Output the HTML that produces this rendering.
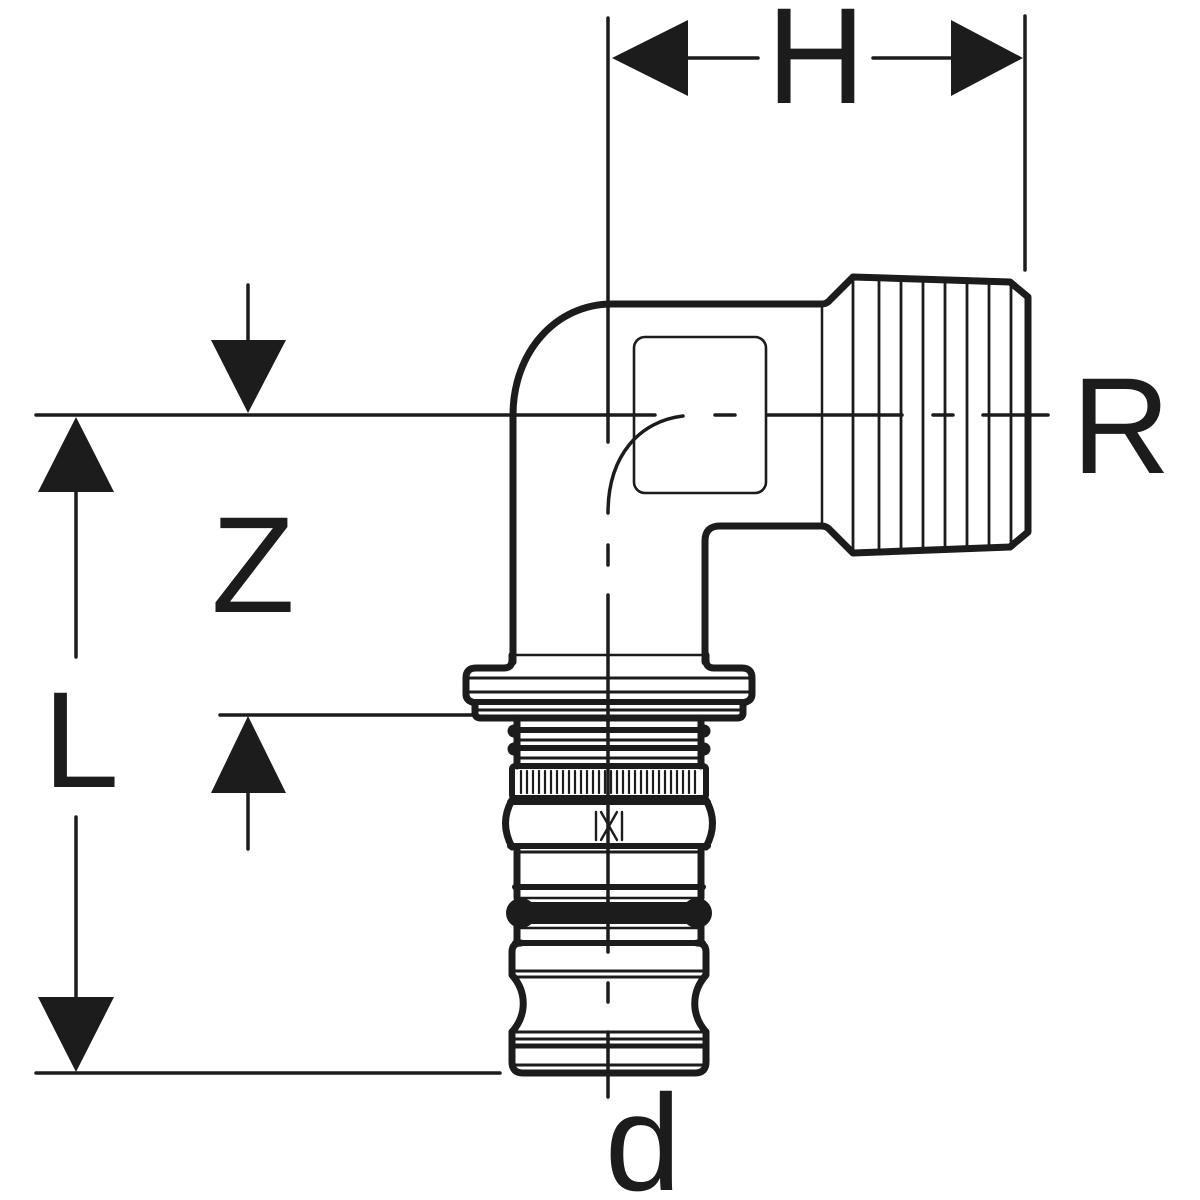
<!DOCTYPE html>
<html><head><meta charset="utf-8"><style>
html,body{margin:0;padding:0;background:#fff;}
svg{display:block;}
text{font-family:"Liberation Sans",Arial,sans-serif;fill:#1c1c1c;}
</style></head><body>
<svg width="1200" height="1200" viewBox="0 0 1200 1200" xmlns="http://www.w3.org/2000/svg">
<rect width="1200" height="1200" fill="#fff"/>
<g stroke="#1c1c1c" fill="none" stroke-linecap="round" stroke-linejoin="round">

<!-- dimension / extension lines -->
<g stroke-width="3.5">
  <line x1="608" y1="18" x2="608" y2="442"/>
  <line x1="608" y1="545" x2="608" y2="565"/>
  <line x1="608" y1="595" x2="608" y2="952"/>
  <line x1="608" y1="983" x2="608" y2="1002"/>
  <line x1="608" y1="1032" x2="608" y2="1097"/>
  <line x1="1025" y1="16" x2="1025" y2="270"/>
  <line x1="687" y1="58" x2="758" y2="58"/>
  <line x1="873" y1="58" x2="952" y2="58"/>
  <!-- R axis -->
  <line x1="36" y1="415" x2="655" y2="415"/>
  <line x1="715" y1="415" x2="735" y2="415"/>
  <line x1="767" y1="415" x2="902" y2="415"/>
  <line x1="933" y1="415" x2="953" y2="415"/>
  <line x1="983" y1="415" x2="1048" y2="415"/>
  <!-- left dims -->
  <line x1="248" y1="285" x2="248" y2="340"/>
  <line x1="76" y1="492" x2="76" y2="657"/>
  <line x1="76" y1="817" x2="76" y2="997"/>
  <line x1="220" y1="715" x2="473" y2="715"/>
  <line x1="248" y1="793" x2="248" y2="849"/>
  <line x1="36" y1="1073" x2="500" y2="1073"/>
  <!-- inner bend axis -->
  <path d="M683,416 C640,421 608,455 608,513"/>
</g>

<!-- arrowheads -->
<g fill="#1c1c1c" stroke="none">
  <polygon points="612,58 688,20 688,96"/>
  <polygon points="1023,58 951,20 951,96"/>
  <polygon points="211,340 286,340 248,413"/>
  <polygon points="76,417 38,492 114,492"/>
  <polygon points="38,997 114,997 76,1072"/>
  <polygon points="248,716 211,793 286,793"/>
</g>

<!-- elbow body -->
<path stroke-width="7" d="M513,662 L513,415 C513,352 556,304 612,304 L822,304 Q827,304 831,299 L853,277 L1010,282 L1028,297 L1028,532 L1010,547 L853,553 L831,531 Q827,526 822,526 L720,526 Q705,526 705,541 L705,662"/>
<line stroke-width="2.5" x1="822" y1="305" x2="822" y2="525"/>
<g stroke-width="2.8">
  <line x1="853" y1="278" x2="853" y2="552"/>
  <line x1="879" y1="278" x2="879" y2="552"/>
  <line x1="901" y1="279" x2="901" y2="551"/>
  <line x1="923" y1="279" x2="923" y2="550"/>
  <line x1="945" y1="280" x2="945" y2="550"/>
  <line x1="967" y1="280" x2="967" y2="549"/>
  <line x1="989" y1="281" x2="989" y2="549"/>
  <line x1="1011" y1="283" x2="1011" y2="546"/>
</g>
<rect x="634" y="337" width="132" height="156" rx="11" stroke-width="2.6"/>

<!-- thin line in pipe -->
<line stroke-width="2.5" x1="517" y1="655" x2="701" y2="655"/>

<!-- left half of lower fitting + mirror -->
<g stroke-width="7">
  <path d="M512,655 L512,660 Q512,668 504,668 L476,668 Q466,668 466,678 L466,694 Q466,700 472,702 L475,704 L475,713 Q475,718 481,718 L609,718"/>
  <line x1="517" y1="718" x2="517" y2="766"/>
  <path d="M512,800 Q499,823 512,847"/>
  <line x1="517" y1="850" x2="517" y2="898"/>
  <line x1="517" y1="926" x2="517" y2="941"/>
  <path d="M521,943 Q512,943 512,952 L512,973"/>
  <path d="M512,975 C527,992 527,1015 512,1032"/>
  <path d="M512,1032 L512,1062 Q512,1073 523,1073 L609,1073"/>
</g>
<g transform="matrix(-1 0 0 1 1218 0)" stroke-width="7">
  <path d="M512,655 L512,660 Q512,668 504,668 L476,668 Q466,668 466,678 L466,694 Q466,700 472,702 L475,704 L475,713 Q475,718 481,718 L609,718"/>
  <line x1="517" y1="718" x2="517" y2="766"/>
  <path d="M512,800 Q499,823 512,847"/>
  <line x1="517" y1="850" x2="517" y2="898"/>
  <line x1="517" y1="926" x2="517" y2="941"/>
  <path d="M521,943 Q512,943 512,952 L512,973"/>
  <path d="M512,975 C527,992 527,1015 512,1032"/>
  <path d="M512,1032 L512,1062 Q512,1073 523,1073 L609,1073"/>
</g>

<!-- flange lines -->
<line stroke-width="3" x1="469" y1="678" x2="749" y2="678"/>
<line stroke-width="3" x1="469" y1="692" x2="749" y2="692"/>
<line stroke-width="6" x1="472" y1="702" x2="746" y2="702"/>
<line stroke-width="3" x1="477" y1="710" x2="741" y2="710"/>

<!-- grooves -->
<line stroke-width="6" x1="518" y1="730" x2="700" y2="730"/>
<line stroke-width="3" x1="518" y1="740" x2="700" y2="740"/>
<line stroke-width="6" x1="518" y1="748" x2="700" y2="748"/>
<line stroke-width="3" x1="518" y1="758" x2="700" y2="758"/>
<g fill="#1c1c1c" stroke="none">
  <circle cx="514" cy="731" r="6.5"/><circle cx="514" cy="749" r="6.5"/>
  <circle cx="704" cy="731" r="6.5"/><circle cx="704" cy="749" r="6.5"/>
</g>

<!-- knurled ring -->
<rect x="512" y="766" width="194" height="32" rx="3" stroke-width="6"/>
<g stroke-width="2.2">
  <line x1="521" y1="771" x2="521" y2="793"/><line x1="527" y1="771" x2="527" y2="793"/>
  <line x1="533" y1="771" x2="533" y2="793"/><line x1="539" y1="771" x2="539" y2="793"/>
  <line x1="545" y1="771" x2="545" y2="793"/><line x1="551" y1="771" x2="551" y2="793"/>
  <line x1="557" y1="771" x2="557" y2="793"/><line x1="563" y1="771" x2="563" y2="793"/>
  <line x1="569" y1="771" x2="569" y2="793"/><line x1="575" y1="771" x2="575" y2="793"/>
  <line x1="581" y1="771" x2="581" y2="793"/><line x1="587" y1="771" x2="587" y2="793"/>
  <line x1="593" y1="771" x2="593" y2="793"/><line x1="599" y1="771" x2="599" y2="793"/>
  <line x1="605" y1="771" x2="605" y2="793"/><line x1="611" y1="771" x2="611" y2="793"/>
  <line x1="617" y1="771" x2="617" y2="793"/><line x1="623" y1="771" x2="623" y2="793"/>
  <line x1="629" y1="771" x2="629" y2="793"/><line x1="635" y1="771" x2="635" y2="793"/>
  <line x1="641" y1="771" x2="641" y2="793"/><line x1="647" y1="771" x2="647" y2="793"/>
  <line x1="653" y1="771" x2="653" y2="793"/><line x1="659" y1="771" x2="659" y2="793"/>
  <line x1="665" y1="771" x2="665" y2="793"/><line x1="671" y1="771" x2="671" y2="793"/>
  <line x1="677" y1="771" x2="677" y2="793"/><line x1="683" y1="771" x2="683" y2="793"/>
  <line x1="689" y1="771" x2="689" y2="793"/><line x1="695" y1="771" x2="695" y2="793"/>
</g>
<line stroke-width="6" x1="510" y1="802" x2="708" y2="802"/>

<!-- window -->
<g stroke-width="2.4">
  <line x1="596" y1="812" x2="596" y2="840"/>
  <line x1="622" y1="812" x2="622" y2="840"/>
  <line x1="601" y1="812" x2="617" y2="840"/>
  <line x1="617" y1="812" x2="601" y2="840"/>
</g>

<line stroke-width="6" x1="510" y1="846" x2="708" y2="846"/>
<line stroke-width="3" x1="515" y1="852" x2="703" y2="852"/>
<line stroke-width="6" x1="515" y1="887" x2="703" y2="887"/>

<!-- O-ring -->
<line stroke-width="2.5" x1="520" y1="898" x2="698" y2="898"/>
<line stroke-width="2.5" x1="520" y1="928" x2="698" y2="928"/>
<g fill="#1c1c1c" stroke="none">
  <rect x="520" y="902" width="178" height="22"/>
  <circle cx="521" cy="913" r="15"/>
  <circle cx="697" cy="913" r="15"/>
</g>

<line stroke-width="6" x1="515" y1="943" x2="703" y2="943"/>
<line stroke-width="3" x1="514" y1="971" x2="704" y2="971"/>
<line stroke-width="3" x1="514" y1="977" x2="704" y2="977"/>
<line stroke-width="3" x1="514" y1="1032" x2="704" y2="1032"/>
<line stroke-width="3" x1="514" y1="1039" x2="704" y2="1039"/>
<line stroke-width="5" x1="514" y1="1046" x2="704" y2="1046"/>
<line stroke-width="3" x1="514" y1="1065" x2="704" y2="1065"/>
</g>

<!-- labels -->
<text x="816" y="103" font-size="137" text-anchor="middle">H</text>
<text x="1121" y="473" font-size="137" text-anchor="middle">R</text>
<text x="253" y="612" font-size="137" text-anchor="middle">Z</text>
<text x="81" y="787" font-size="137" text-anchor="middle">L</text>
<text x="643" y="1190" font-size="137" text-anchor="middle">d</text>
</svg>
</body></html>
